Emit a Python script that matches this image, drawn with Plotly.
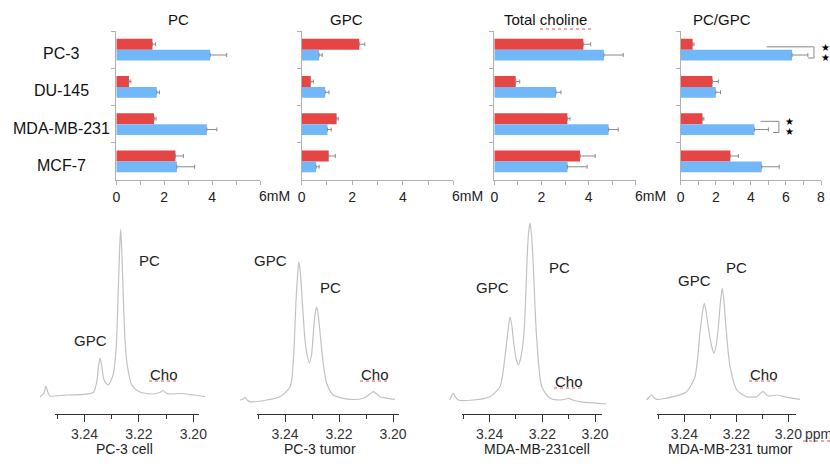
import plotly.graph_objects as go

W, H = 830, 466

# ---------------- data ----------------
categories = ["PC-3", "DU-145", "MDA-MB-231", "MCF-7"]
panel_titles = ["PC", "GPC", "Total choline", "PC/GPC"]

# red = cells, blue = tumors
pc_red = [1.51, 0.53, 1.58, 2.47]
pc_red_err = [0.13, 0.08, 0.08, 0.33]
pc_blue = [3.92, 1.69, 3.78, 2.53]
pc_blue_err = [0.69, 0.11, 0.42, 0.74]

gpc_red = [2.28, 0.36, 1.38, 1.07]
gpc_red_err = [0.22, 0.10, 0.07, 0.26]
gpc_blue = [0.69, 0.93, 1.02, 0.57]
gpc_blue_err = [0.12, 0.15, 0.15, 0.12]

tcho_red = [3.78, 0.91, 3.10, 3.64]
tcho_red_err = [0.31, 0.17, 0.11, 0.64]
tcho_blue = [4.65, 2.62, 4.85, 3.11]
tcho_blue_err = [0.82, 0.21, 0.41, 0.83]

ratio_red = [0.68, 1.81, 1.24, 2.83]
ratio_red_err = [0.08, 0.34, 0.08, 0.46]
ratio_blue = [6.35, 2.00, 4.20, 4.62]
ratio_blue_err = [0.90, 0.27, 0.80, 1.00]

bar_xmax = [6, 6, 6, 8]
bar_tick_labels = [["0", "", "2", "", "4", "", ""],
                   ["0", "", "2", "", "4", "", ""],
                   ["0", "", "2", "", "4", "", ""],
                   ["0", "", "2", "", "4", "", "6", "", "8"]]

# 1H spectra (ppm, intensity in arbitrary units)
pc3_cell_ppm = [3.2564, 3.2549, 3.2542, 3.2535, 3.2527, 3.2490, 3.2465, 3.2404, 3.2368, 3.2355,
                3.2348, 3.2343, 3.2337, 3.2328, 3.2313, 3.2295, 3.2284, 3.2277, 3.2271, 3.2267,
                3.2263, 3.2257, 3.2251, 3.2243, 3.2226, 3.2196, 3.2147, 3.2120, 3.2110, 3.2100,
                3.2086, 3.2043, 3.2000, 3.1957]
pc3_cell_int = [13, 17, 24, 18, 14, 14.5, 15, 15.7, 17.5, 28,
                45, 52, 45, 30, 25, 35, 60, 110, 160, 181,
                160, 110, 70, 45, 25, 18, 16, 18, 19.5, 17,
                16, 16.5, 15, 13.3]

pc3_tumor_ppm = [3.2567, 3.2555, 3.2548, 3.2540, 3.2530, 3.2468, 3.2419, 3.2381, 3.2369, 3.2359,
                 3.2352, 3.2349, 3.2344, 3.2338, 3.2326, 3.2318, 3.2310, 3.2302, 3.2295, 3.2288,
                 3.2283, 3.2278, 3.2270, 3.2260, 3.2246, 3.2221, 3.2159, 3.2110, 3.2085, 3.2073,
                 3.2060, 3.2048, 3.1993]
pc3_tumor_int = [10, 11, 12.7, 10, 8.3, 10, 13.3, 23.3, 50, 110,
                 140, 148, 140, 117, 70, 55, 47, 55, 77, 97,
                 103, 97, 77, 50, 27, 15, 10.7, 11.7, 16, 18.3,
                 16, 13.3, 10.7]

mda_cell_ppm = [3.2551, 3.2545, 3.2538, 3.2530, 3.2519, 3.2462, 3.2399, 3.2361, 3.2342, 3.2330,
                3.2323, 3.2316, 3.2310, 3.2300, 3.2291, 3.2282, 3.2272, 3.2265, 3.2259, 3.2253,
                3.2247, 3.2241, 3.2234, 3.2228, 3.2221, 3.2202, 3.2171, 3.2133, 3.2110, 3.2101,
                3.2085, 3.2057, 3.1956]
mda_cell_int = [10, 14, 16.7, 13, 10, 10, 13.3, 23.3, 53, 80,
                93, 85, 70, 52, 45, 52, 70, 100, 143, 175,
                187, 175, 143, 105, 70, 23.3, 11.7, 10, 11, 11.7,
                10, 8.3, 6]

mda_tumor_ppm = [3.2545, 3.2535, 3.2525, 3.2515, 3.2506, 3.2442, 3.2391, 3.2359, 3.2340, 3.2330,
                 3.2323, 3.2316, 3.2308, 3.2296, 3.2286, 3.2277, 3.2269, 3.2261, 3.2254, 3.2247,
                 3.2240, 3.2224, 3.2198, 3.2160, 3.2122, 3.2098, 3.2077, 3.2045, 3.2006, 3.1955]
mda_tumor_int = [10, 13, 15, 12, 10.7, 13.3, 18.3, 33.3, 76.7, 98,
                 106.7, 98, 83.3, 65, 56.7, 65, 83.3, 108, 121.7, 108,
                 83.3, 43.3, 20, 13.3, 13.3, 18.3, 14, 15, 12.7, 10.7]

spec_titles = ["PC-3 cell", "PC-3 tumor", "MDA-MB-231cell", "MDA-MB-231 tumor"]
ppm_major = [3.24, 3.22, 3.20]
ppm_major_text = ["3.24", "3.22", "3.20"]
ppm_minor = [3.25, 3.23, 3.21]

# ---------------- layout helpers ----------------
RED = "#E64545"
BLUE = "#72B8F8"
FONT = "Arial, Liberation Sans, Helvetica, sans-serif"


def fx(p):
    return p / W


def fy(p):
    return 1 - p / H


def ax(kind, n):
    return f"{kind}axis" if n == 1 else f"{kind}axis{n}"


def ref(kind, n):
    return kind if n == 1 else f"{kind}{n}"


def label(text, x, y, size=15, color="#222", family=FONT, xref="paper", yref="paper", **kw):
    d = dict(text=text, x=x, y=y, xref=xref, yref=yref, showarrow=False,
             xanchor="center", yanchor="middle",
             font=dict(size=size, color=color, family=family))
    d.update(kw)
    return d


fig = go.Figure()
layout = {}
annotations = []
shapes = []

# ---------------- bar panels ----------------
bar_sets = [(pc_red, pc_red_err, pc_blue, pc_blue_err),
            (gpc_red, gpc_red_err, gpc_blue, gpc_blue_err),
            (tcho_red, tcho_red_err, tcho_blue, tcho_blue_err),
            (ratio_red, ratio_red_err, ratio_blue, ratio_blue_err)]
bar_xdom_px = [(116.3, 260.0), (301.7, 453.3), (494.3, 635.7), (680.7, 821.0)]
bar_ydom_px = (31, 180)
title_px = [(178, 19), (346.7, 19), (545, 19), (721.7, 19)]

for i, (rv, re_, bv, be) in enumerate(bar_sets):
    n = i + 1
    for vals, errs, col in ((rv, re_, RED), (bv, be, BLUE)):
        fig.add_trace(go.Bar(
            y=categories, x=vals, orientation="h",
            marker=dict(color=col, line=dict(width=0)),
            error_x=dict(type="data", array=errs, arrayminus=[0] * len(errs), symmetric=False,
                         color="#8a8a8a", thickness=1, width=2),
            xaxis=ref("x", n), yaxis=ref("y", n), showlegend=False, hoverinfo="skip"))
    xm = bar_xmax[i]
    layout[ax("x", n)] = dict(
        domain=[fx(bar_xdom_px[i][0]), fx(bar_xdom_px[i][1])], anchor=ref("y", n),
        range=[0, xm], tickvals=list(range(xm + 1)), ticktext=bar_tick_labels[i],
        ticks="outside", ticklen=4, tickcolor="#b0b0b0", showline=True, linecolor="#b0b0b0",
        showgrid=False, zeroline=False, automargin=False,
        tickfont=dict(size=14, color="#222", family=FONT))
    layout[ax("y", n)] = dict(
        domain=[fy(bar_ydom_px[1]), fy(bar_ydom_px[0])], anchor=ref("x", n),
        type="category", categoryarray=categories, range=[3.5, -0.5],
        tickson="boundaries", ticks="outside", ticklen=4, tickcolor="#b0b0b0",
        showline=True, linecolor="#b0b0b0", showgrid=False, showticklabels=False,
        automargin=False)
    annotations.append(label(panel_titles[i], fx(title_px[i][0]), fy(title_px[i][1]),
                             size=15, color="#111"))
    if xm == 6:
        annotations.append(label("6mM", 6, fy(196), size=14, xref=ref("x", n),
                                 xanchor="left", xshift=-3))

# category labels
for c in categories:
    annotations.append(label(c, fx(61), c, size=16, color="#111", yref="y", yshift=-4))

# significance brackets (panel 4)
brackets = [(0, 4.9, 7.6, 7.25, 825), (2, 4.56, 5.6, 5.26, 789)]
for cat_i, x0, xc, x1, xs_px in brackets:
    top, bot = cat_i - 0.075, cat_i + 0.225
    for (a, b, c_, d) in ((x0, top, xc, top), (xc, top, xc, bot), (xc, bot, x1, bot)):
        shapes.append(dict(type="line", xref="x4", yref="y4", x0=a, y0=b, x1=c_, y1=d,
                           line=dict(color="#8a8a8a", width=1)))
    for yy in (cat_i - 0.06, cat_i + 0.21):
        annotations.append(label("★", fx(xs_px), yy, size=10, color="#000",
                                 family="DejaVu Sans", yref="y4"))

# ---------------- spectra ----------------
spec_data = [(pc3_cell_ppm, pc3_cell_int), (pc3_tumor_ppm, pc3_tumor_int),
             (mda_cell_ppm, mda_cell_int), (mda_tumor_ppm, mda_tumor_int)]
spec_tick_px = [(57.3, 193.3), (258.0, 393.0), (463.3, 595.0), (658.3, 788.3)]
spec_line_px = [(55.0, 199.3), (256.7, 399.0), (461.7, 601.7), (656.7, 795.7)]
spec_curve_px = [(36.0, 208.0), (236.0, 398.0), (446.0, 610.0), (642.0, 803.0)]
spec_axis_y = 414.3
spec_ydom_px = (220, 410)
spec_title_px = [(124, 449), (320, 449), (536.7, 449), (730.7, 449)]
peak_labels = [
    [("PC", 149.3, 260), ("GPC", 90.8, 340), ("Cho", 164, 374)],
    [("GPC", 270.8, 260), ("PC", 330.5, 287), ("Cho", 375, 374)],
    [("GPC", 492.5, 287), ("PC", 559.5, 267), ("Cho", 569.3, 381)],
    [("GPC", 694.5, 280), ("PC", 736.3, 267), ("Cho", 764, 374)],
]


def ppm_at(px, t):
    s = (t[1] - t[0]) / 0.05
    return 3.25 - (px - t[0]) / s


for i, (ppm, inten) in enumerate(spec_data):
    n = 5 + i
    t = spec_tick_px[i]
    cl, cr = spec_curve_px[i]
    fig.add_trace(go.Scatter(x=ppm, y=inten, mode="lines",
                             line=dict(color="#c2c2c2", width=1.2, shape="spline", smoothing=0.7),
                             xaxis=ref("x", n), yaxis=ref("y", n), showlegend=False, hoverinfo="skip"))
    layout[ax("x", n)] = dict(domain=[fx(cl), fx(cr)], range=[ppm_at(cl, t), ppm_at(cr, t)],
                              anchor=ref("y", n), visible=False, automargin=False)
    layout[ax("y", n)] = dict(domain=[fy(spec_ydom_px[1]), fy(spec_ydom_px[0])], range=[0, 190],
                              anchor=ref("x", n), visible=False, automargin=False)
    # visible ppm axis
    m = 9 + i
    ll, lr = spec_line_px[i]
    fig.add_trace(go.Scatter(x=[None], y=[None], mode="lines", xaxis=ref("x", m), yaxis=ref("y", m),
                             showlegend=False, hoverinfo="skip"))
    layout[ax("x", m)] = dict(domain=[fx(ll), fx(lr)], range=[ppm_at(ll, t), ppm_at(lr, t)],
                              anchor=ref("y", m), tickvals=ppm_major, ticktext=ppm_major_text,
                              ticks="outside", ticklen=7, tickwidth=1, tickcolor="#333",
                              minor=dict(tickvals=ppm_minor, ticks="outside", ticklen=4,
                                         tickwidth=1, tickcolor="#333"),
                              showline=True, linecolor="#333", linewidth=1, showgrid=False,
                              zeroline=False, automargin=False,
                              tickfont=dict(size=14, color="#333", family=FONT))
    layout[ax("y", m)] = dict(domain=[fy(spec_axis_y), fy(spec_axis_y) + 0.004], anchor=ref("x", m),
                              visible=False, range=[0, 1], automargin=False)
    annotations.append(label(spec_titles[i], fx(spec_title_px[i][0]), fy(spec_title_px[i][1]),
                             size=14))
    for txt, px_, py_ in peak_labels[i]:
        annotations.append(label(txt, fx(px_), fy(py_), size=15))

annotations.append(label("ppm", fx(803), fy(434), size=14, color="#333", xanchor="left"))

# spell-check style red underlines seen in the reference
squiggles = [(540, 592, 29), (149, 179, 381), (360, 390, 381), (554, 584, 388), (749, 779, 381),
             (803, 830, 441)]
for xa_, xb_, yy_ in squiggles:
    shapes.append(dict(type="line", xref="paper", yref="paper", x0=fx(xa_), x1=fx(xb_),
                       y0=fy(yy_), y1=fy(yy_), line=dict(color="#e05050", width=1, dash="dot")))

fig.update_layout(
    template="none",
    width=W, height=H, margin=dict(l=0, r=0, t=0, b=0, pad=0),
    paper_bgcolor="white", plot_bgcolor="rgba(0,0,0,0)",
    barmode="group", bargap=0.42, bargroupgap=0,
    annotations=annotations, shapes=shapes, showlegend=False,
    **layout)

fig.write_html("out.html",
               config={"displayModeBar": False, "staticPlot": True},
               post_script="document.body.style.margin='0px';document.body.style.overflow='hidden';")
